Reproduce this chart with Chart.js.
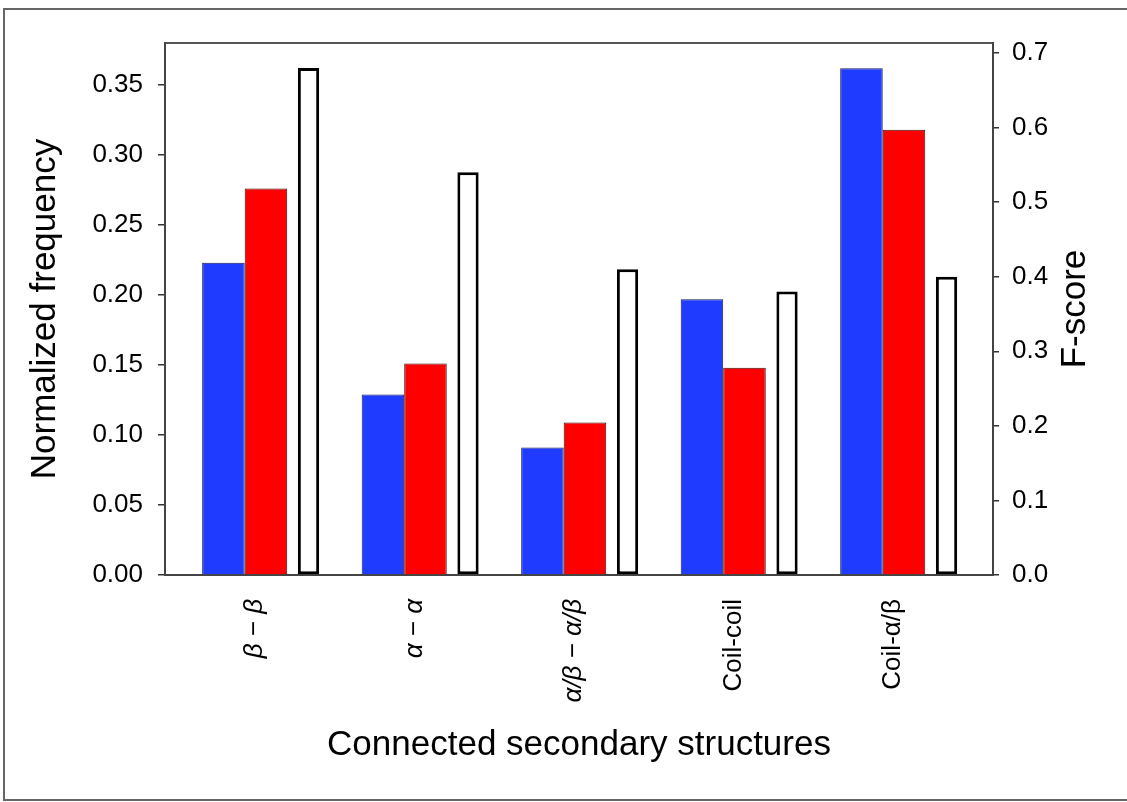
<!DOCTYPE html>
<html>
<head>
<meta charset="utf-8">
<script src="https://cdn.jsdelivr.net/npm/chart.js@4.4.1/dist/chart.umd.min.js"></script>
<style>
  body { margin: 0; background: #fff; }
  #wrap { position: relative; width: 1127px; height: 802px; overflow: hidden; }
  #frame { position: absolute; left: 3px; top: 8px; width: 1130px; height: 789px;
           border-left: 2px solid #666; border-top: 2px solid #666; border-bottom: 2px solid #666;
           pointer-events: none; }
</style>
</head>
<body>
<div id="wrap">
  <canvas id="graph" width="1127" height="802"></canvas>
  <div id="frame"></div>
</div>
<script>
// values
const categories = ["β − β", "α − α", "α/β − α/β", "Coil-coil", "Coil-α/β"];
const blueVals = [0.223, 0.129, 0.091, 0.197, 0.362];   // normalized frequency (left axis)
const redVals = [0.276, 0.151, 0.109, 0.148, 0.318];    // normalized frequency (left axis)
const fScores = [0.68, 0.54, 0.41, 0.38, 0.40];         // F-score (right axis)
const italicLabels = [true, true, true, false, false];

const FONT = '"Liberation Sans", Arial, Helvetica, sans-serif';

function points(vals) {
  return vals.map((v, i) => ({ x: i, y: v }));
}

// right axis title reads bottom to top, so draw it ourselves
const fscoreTitle = {
  id: 'fscoreTitle',
  afterDraw(chart) {
    const ctx = chart.ctx;
    const area = chart.chartArea;
    ctx.save();
    ctx.translate(1075, (area.top + area.bottom) / 2);
    ctx.rotate(-Math.PI / 2);
    ctx.font = '35px ' + FONT;
    ctx.fillStyle = '#000';
    ctx.textAlign = 'center';
    ctx.textBaseline = 'middle';
    ctx.fillText('F-score', 0, 0);
    ctx.restore();
  }
};

const graph = document.getElementById("graph");
const graphChart = new Chart(graph, {
  type: 'bar',
  data: {
    datasets: [
      {
        label: "Blue",
        data: points(blueVals),
        backgroundColor: "#1f3bff",
        borderColor: "#1a1a50",
        borderWidth: 1,
        barPercentage: 1.0,
        categoryPercentage: 0.8,
        yAxisID: 'y'
      },
      {
        label: "Red",
        data: points(redVals),
        backgroundColor: "#ff0000",
        borderColor: "#3a1010",
        borderWidth: 1,
        barPercentage: 1.0,
        categoryPercentage: 0.8,
        yAxisID: 'y'
      },
      {
        label: "F-score",
        data: points(fScores),
        backgroundColor: "#ffffff",
        borderColor: "#000000",
        borderWidth: 3,
        borderSkipped: false,
        barPercentage: 0.5,
        categoryPercentage: 0.8,
        yAxisID: 'y1'
      }
    ]
  },
  options: {
    responsive: false,
    animation: false,
    layout: { padding: 0 },
    plugins: {
      legend: { display: false },
      tooltip: { enabled: false }
    },
    scales: {
      x: {
        type: 'linear',
        position: 'bottom',
        offset: false,
        min: -0.633,
        max: 4.558,
        afterBuildTicks: (s) => { s.ticks = categories.map((c, i) => ({ value: i })); },
        afterFit: (s) => { s.height = 227; },
        grid: { display: false, drawTicks: false },
        border: { display: true, color: '#444', width: 2 },
        ticks: {
          autoSkip: false,
          minRotation: 90,
          maxRotation: 90,
          padding: 24,
          labelOffset: -11,
          color: '#000',
          font: (ctx) => ({ family: FONT, size: 26, style: italicLabels[ctx.index] ? 'italic' : 'normal' }),
          callback: (v) => categories[Math.round(v)]
        },
        title: {
          display: true,
          text: 'Connected secondary structures',
          color: '#000',
          font: { family: FONT, size: 35 },
          padding: { top: 0, bottom: 36 }
        }
      },
      xTop: {
        type: 'linear',
        position: 'top',
        min: 0,
        max: 1,
        afterFit: (s) => { s.height = 43; },
        grid: { display: false, drawTicks: false },
        ticks: { display: false },
        border: { display: true, color: '#555', width: 2 }
      },
      y: {
        position: 'left',
        min: 0,
        max: 0.38,
        afterFit: (s) => { s.width = 165; },
        grid: { drawOnChartArea: false, drawTicks: true, tickLength: 7, tickColor: '#333', lineWidth: 1.5 },
        border: { display: true, color: '#444', width: 2 },
        ticks: {
          stepSize: 0.05,
          includeBounds: false,
          padding: 15,
          color: '#000',
          font: { family: FONT, size: 26 },
          callback: (v) => v.toFixed(2)
        },
        title: {
          display: true,
          text: 'Normalized frequency',
          color: '#000',
          font: { family: FONT, size: 35 },
          padding: { top: 24, bottom: 0 }
        }
      },
      y1: {
        position: 'right',
        min: 0,
        max: 0.7134,
        afterFit: (s) => { s.width = 134; },
        grid: { drawOnChartArea: false, drawTicks: true, tickLength: 6, tickColor: '#333', lineWidth: 1.5 },
        border: { display: true, color: '#444', width: 2 },
        ticks: {
          stepSize: 0.1,
          includeBounds: false,
          padding: 13,
          color: '#000',
          font: { family: FONT, size: 26 },
          callback: (v) => v.toFixed(1)
        }
      }
    }
  },
  plugins: [fscoreTitle]
});
</script>
</body>
</html>
